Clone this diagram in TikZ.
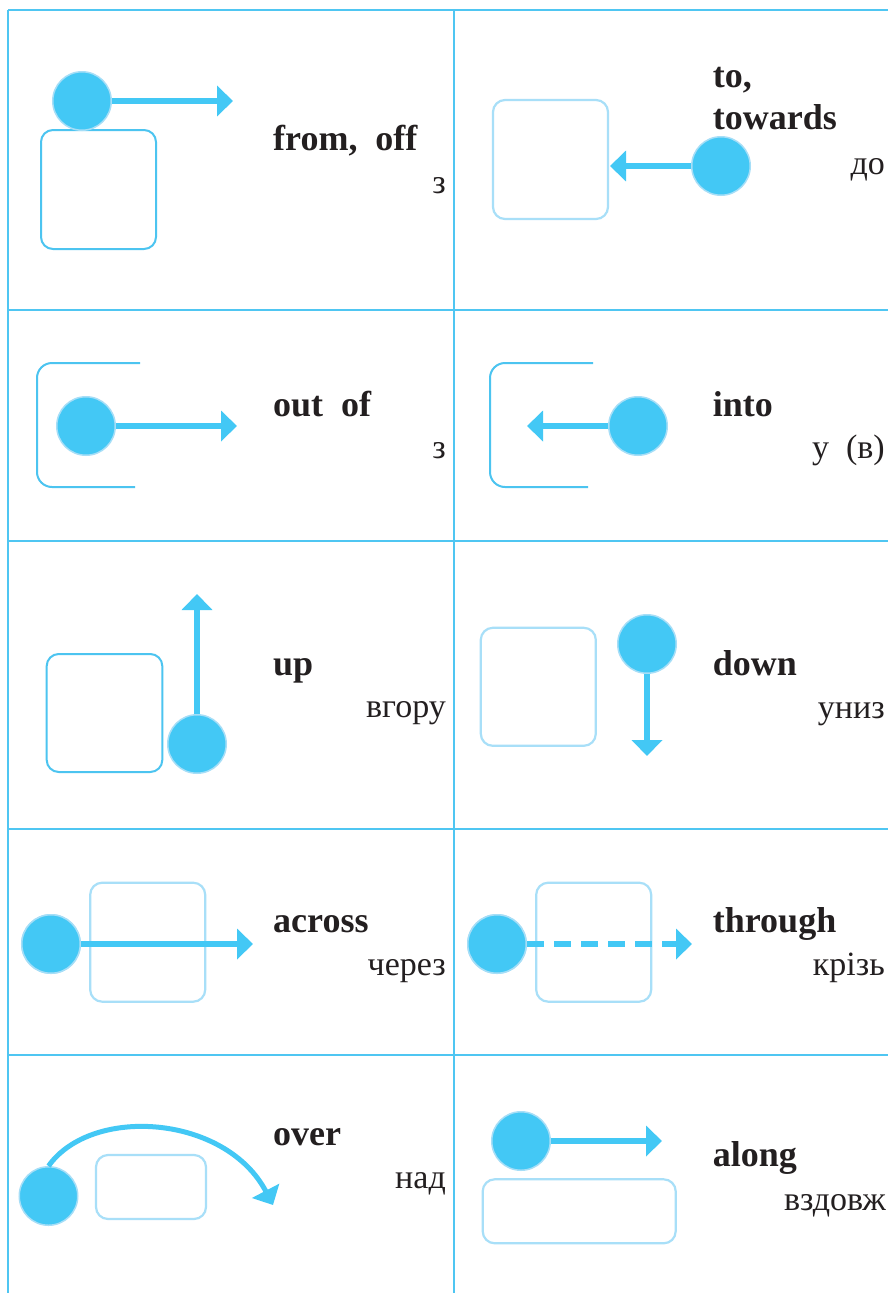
\documentclass[tikz,border=0pt]{standalone}
\usepackage{fontspec}
\setmainfont{Liberation Serif}
\usetikzlibrary{arrows.meta}
\definecolor{gridc}{HTML}{4FC6F2}
\definecolor{ballc}{HTML}{43C8F5}
\definecolor{ballrim}{HTML}{A6DEF7}
\definecolor{boxmidc}{HTML}{4CC4F0}
\definecolor{boxlightc}{HTML}{A8DFF8}
\definecolor{inkc}{HTML}{231F20}
\begin{document}
\begin{tikzpicture}[x=1pt,y=-1pt,
  gridline/.style={draw=gridc,line width=2.4pt},
  ball/.style={circle,fill=ballc,draw=ballrim,line width=1.5pt,minimum size=58.5pt,inner sep=0pt},
  midbox/.style={draw=boxmidc,line width=2pt,rounded corners=12pt,inner sep=0pt},
  lightbox/.style={draw=boxlightc,line width=2.2pt,rounded corners=12pt,inner sep=0pt},
  bracketline/.style={draw=boxmidc,line width=2pt,rounded corners=15pt},
  arr/.style={draw=ballc,line width=6pt,-{Triangle[length=16pt,width=30pt]}},
  eng/.style={text=inkc,inner sep=0pt,font=\fontsize{36}{40}\selectfont\bfseries,anchor=base west},
  ukr/.style={text=inkc,inner sep=0pt,font=\fontsize{34}{38}\selectfont,anchor=base east}
]
\useasboundingbox (0,0) rectangle (888,1293);
\fill[white] (0,0) rectangle (888,1293);

% grid
\coordinate (gTL) at (8,10);
\coordinate (gTR) at (888,10);
\coordinate (gBL) at (8,1293);
\coordinate (gMT) at (454,10);
\coordinate (gMB) at (454,1293);
\draw[gridline] (gTL) -- (gTR);
\draw[gridline] (gTL) -- (gBL);
\draw[gridline] (gMT) -- (gMB);
\foreach \yy/\nm in {310/a,541/b,829/c,1055/d}{
  \coordinate (h\nm L) at (8,\yy);
  \coordinate (h\nm R) at (888,\yy);
  \draw[gridline] (h\nm L) -- (h\nm R);
}

% boxes
\node[midbox,minimum width=115pt,minimum height=119pt] (r1) at (98.5,189.5) {};
\node[lightbox,minimum width=115pt,minimum height=119pt] (r2) at (550.5,159.5) {};
\node[midbox,minimum width=115.6pt,minimum height=118pt] (r5) at (104.5,713) {};
\node[lightbox,minimum width=115pt,minimum height=118pt] (r6) at (538.3,686.8) {};
\node[lightbox,minimum width=115pt,minimum height=119pt] (r7) at (147.7,942.2) {};
\node[lightbox,minimum width=115pt,minimum height=119pt] (r8) at (593.7,942.2) {};
\node[lightbox,minimum width=110pt,minimum height=64pt] (r9) at (151,1187) {};
\node[lightbox,minimum width=193pt,minimum height=64pt] (r10) at (579.2,1211.3) {};

% brackets
\coordinate (k3a) at (140,363);
\coordinate (k3b) at (37,363);
\coordinate (k3c) at (37,487);
\coordinate (k3d) at (135,487);
\draw[bracketline] (k3a) -- (k3b) -- (k3c) -- (k3d);
\coordinate (k4a) at (593,363);
\coordinate (k4b) at (490,363);
\coordinate (k4c) at (490,487);
\coordinate (k4d) at (588,487);
\draw[bracketline] (k4a) -- (k4b) -- (k4c) -- (k4d);

% balls
\node[ball] (b1) at (82,101) {};
\node[ball] (b2) at (721,166) {};
\node[ball] (b3) at (86,426) {};
\node[ball] (b4) at (638,426) {};
\node[ball] (b5) at (197,744) {};
\node[ball] (b6) at (647,644) {};
\node[ball] (b7) at (51,944) {};
\node[ball] (b8) at (497,944) {};
\node[ball] (b9) at (48.5,1196) {};
\node[ball] (b10) at (521,1141) {};

% arrow tips
\coordinate (t1) at (233,101);
\coordinate (t2) at (610,166);
\coordinate (t3) at (237,426);
\coordinate (t4) at (527,426);
\coordinate (t5) at (197,594);
\coordinate (t6) at (647,756);
\coordinate (t7) at (253,944);
\coordinate (t8) at (692,944);
\coordinate (t9) at (273,1205);
\coordinate (t10) at (662,1141);

\draw[arr] (b1) -- (t1);
\draw[arr] (b2) -- (t2);
\draw[arr] (b3) -- (t3);
\draw[arr] (b4) -- (t4);
\draw[arr] (b5) -- (t5);
\draw[arr] (b6) -- (t6);
\draw[arr] (b7) -- (t7);
\draw[arr,dash pattern=on 17pt off 10pt] (b8) -- (t8);
\draw[arr,line width=5pt] (b9.north) .. controls (92,1105) and (226,1115) .. (t9);
\draw[arr] (b10) -- (t10);
\node[ball] at (b7) {};
\node[ball] at (b8) {};

% English words
\node[eng] (e1) at (273,150) {from,\ \ off};
\node[eng] (e2a) at (712.7,87) {to,};
\node[eng] (e2b) at (712.7,129) {towards};
\node[eng] (e3) at (273,416) {out\ \ of};
\node[eng] (e4) at (712.7,416) {into};
\node[eng] (e5) at (273,675) {up};
\node[eng] (e6) at (712.7,675) {down};
\node[eng] (e7) at (273,932.7) {across};
\node[eng] (e8) at (712.7,932.7) {through};
\node[eng] (e9) at (273,1145) {over};
\node[eng] (e10) at (712.7,1166.7) {along};

% Ukrainian words
\node[ukr] (u1) at (446,193) {з};
\node[ukr] (u2) at (885,174.3) {до};
\node[ukr] (u3) at (446,458.3) {з};
\node[ukr] (u4) at (885,458.3) {у\ \ (в)};
\node[ukr] (u5) at (446,717) {вгору};
\node[ukr] (u6) at (885,718.3) {униз};
\node[ukr] (u7) at (446,975) {через};
\node[ukr] (u8) at (885,975) {крізь};
\node[ukr] (u9) at (446,1188.3) {над};
\node[ukr] (u10) at (886,1210) {вздовж};
\end{tikzpicture}
\end{document}
